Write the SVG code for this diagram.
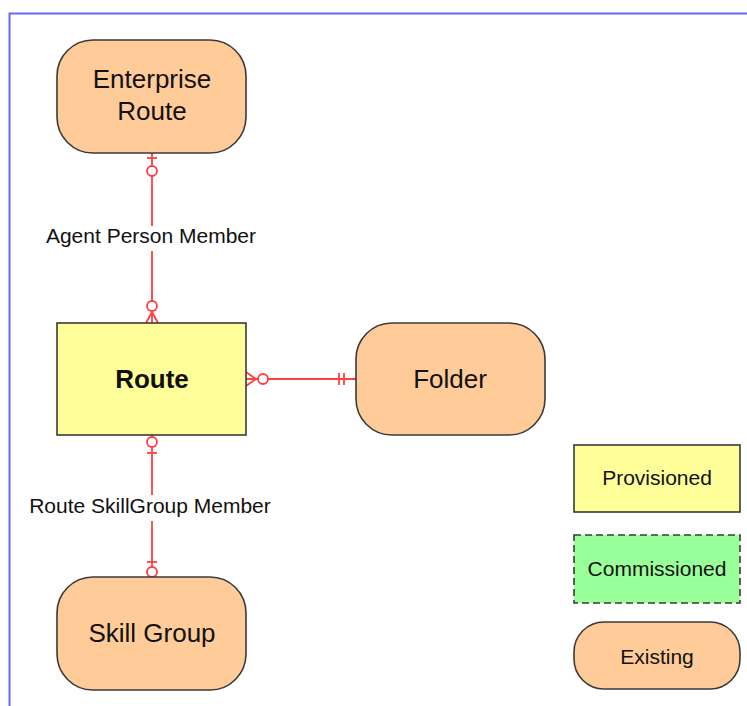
<svg xmlns="http://www.w3.org/2000/svg" width="747" height="706" viewBox="0 0 747 706">
<style>
.ex{fill:#FFCC99;stroke:#3a3a3a;stroke-width:1.6}
.pv{fill:#FFFF99;stroke:#3a3a3a;stroke-width:1.6}
.cm{fill:#99FF99;stroke:#3a3a3a;stroke-width:1.6;stroke-dasharray:7 4}
.t{font-family:"Liberation Sans",Arial,sans-serif;fill:#111;text-anchor:middle}
.n{font-size:26px}
.b{font-size:26px;font-weight:bold}
.s{font-size:21px}
.c{fill:none;stroke:#FF4040;stroke-width:1.8}
.o{fill:#fff;stroke:#FF4040;stroke-width:1.8}
</style>
<rect x="0" y="0" width="747" height="706" fill="#fff"/>
<path d="M9.5 706 V13.5 H747" fill="none" stroke="#6666FF" stroke-width="2"/>
<g id="connectors">
  <g id="c-enterprise-route">
    <path class="c" d="M152 153 V226 M152 251 V323"/>
    <path class="c" d="M147 158 H157"/>
    <circle class="o" cx="152" cy="171" r="5"/>
    <circle class="o" cx="152" cy="306" r="5"/>
    <path class="c" d="M152 312 L146 323 M152 312 L158 323"/>
  </g>
  <g id="c-route-folder">
    <path class="c" d="M246 379 H356"/>
    <path class="c" d="M246 372 L256 379 L246 386"/>
    <circle class="o" cx="263" cy="379" r="5"/>
    <path class="c" d="M339 373 V385 M344 373 V385"/>
  </g>
  <g id="c-route-skill">
    <path class="c" d="M152 435 V495 M152 521 V577"/>
    <circle class="o" cx="152" cy="442" r="5"/>
    <path class="c" d="M147 453 H157"/>
    <path class="c" d="M147 562 H157"/>
    <circle class="o" cx="152" cy="572" r="5"/>
  </g>
  <text class="t s" x="151" y="243">Agent Person Member</text>
  <text class="t s" x="150" y="513">Route SkillGroup Member</text>
</g>
<g id="enterprise-route">
  <rect class="ex" x="57" y="40" width="189" height="113" rx="36"/>
  <text class="t n" x="152" y="88">Enterprise</text>
  <text class="t n" x="152" y="120">Route</text>
</g>
<g id="route">
  <rect class="pv" x="57" y="323" width="189" height="112"/>
  <text class="t b" x="152" y="388">Route</text>
</g>
<g id="folder">
  <rect class="ex" x="356" y="323" width="189" height="112" rx="36"/>
  <text class="t n" x="450" y="388">Folder</text>
</g>
<g id="skill-group">
  <rect class="ex" x="57" y="577" width="189" height="113" rx="36"/>
  <text class="t n" x="152" y="642">Skill Group</text>
</g>
<g id="legend-provisioned">
  <rect class="pv" x="574" y="445" width="166" height="67"/>
  <text class="t s" x="657" y="485">Provisioned</text>
</g>
<g id="legend-commissioned">
  <rect class="cm" x="574" y="535" width="166" height="68"/>
  <text class="t s" x="657" y="576">Commissioned</text>
</g>
<g id="legend-existing">
  <rect class="ex" x="574" y="622" width="166" height="67" rx="30"/>
  <text class="t s" x="657" y="664">Existing</text>
</g>
</svg>
